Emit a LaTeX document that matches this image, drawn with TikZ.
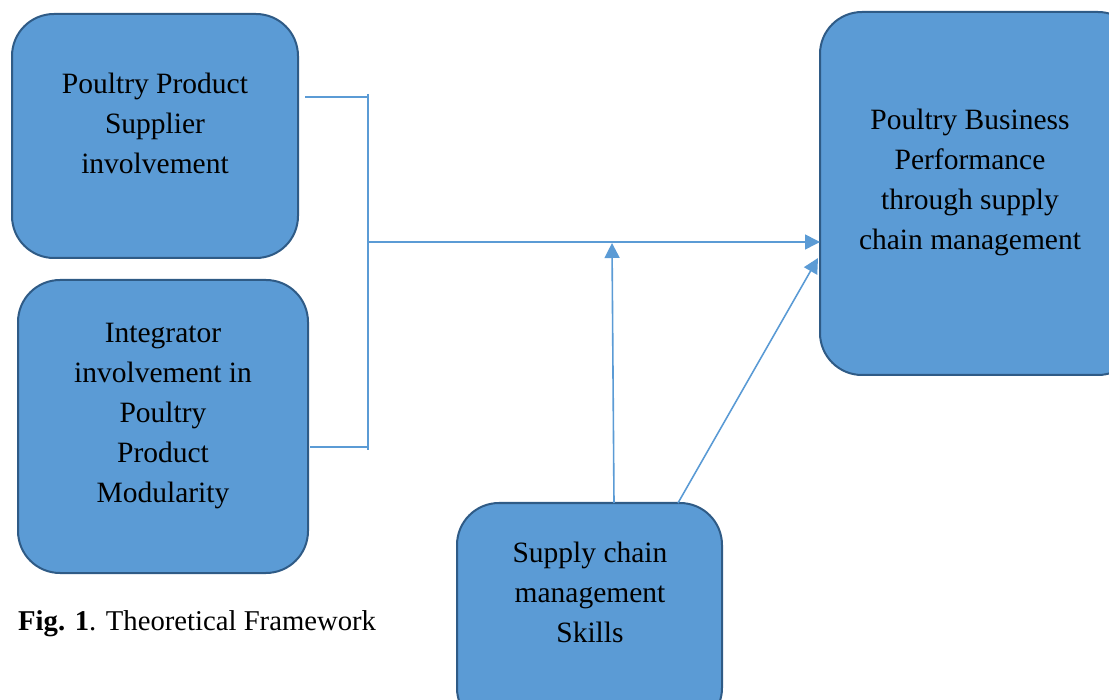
\documentclass[tikz,border=0pt]{standalone}
\usepackage{fontspec}
\setmainfont{Liberation Serif}
\usetikzlibrary{arrows.meta}
\definecolor{boxfill}{HTML}{5B9BD5}
\definecolor{boxedge}{HTML}{2F5B86}
\definecolor{linecol}{HTML}{5B9BD5}
\tikzset{
  box/.style={draw=boxedge, fill=boxfill, line width=2pt, rounded corners=42pt},
  txt/.style={align=center, font=\fontsize{29.5}{40}\selectfont, inner sep=0pt},
  conn/.style={draw=linecol, line width=1.6pt},
  arr/.style={conn, -{Triangle[length=15pt,width=15pt]}},
}
\begin{document}
\begin{tikzpicture}[x=1pt,y=-1pt]
\useasboundingbox (0,0) rectangle (1109,700);
% boxes
\draw[box] (12,14) rectangle (298,258);
\draw[box] (18,280) rectangle (308,573);
\draw[box] (820,12) rectangle (1140,375);
\draw[box] (457,503) rectangle (722,730);
% texts
\node[txt] (sup) at (155,123) {Poultry Product\\Supplier\\involvement};
\node[txt] (int) at (163,416) {Integrator\\involvement in\\Poultry\\Product\\Modularity};
\node[txt] (perf) at (970,182) {Poultry Business\\Performance\\through supply\\chain management};
\node[txt] (skill) at (590,592) {Supply chain\\management\\Skills};
\node[anchor=west, font=\fontsize{28.7}{36}\selectfont, inner sep=0pt] (cap) at (18,624) {\textbf{Fig. 1}. Theoretical Framework};
% connector coordinates
\coordinate (t1) at (305,97);
\coordinate (t2) at (368,97);
\coordinate (vt) at (368,94);
\coordinate (vb) at (368,450);
\coordinate (b1) at (310,447);
\coordinate (b2) at (368,447);
\coordinate (mid) at (368,242);
\coordinate (perfin) at (820,242);
\coordinate (perfin2) at (818,258);
\coordinate (skilltop) at (614,503);
\coordinate (join) at (612,243);
\coordinate (skilltop2) at (678,503);
% connectors
\draw[conn] (t1) -- (t2);
\draw[conn] (vt) -- (vb);
\draw[conn] (b1) -- (b2);
\draw[arr] (mid) -- (perfin);
\draw[arr] (skilltop) -- (join);
\draw[arr] (skilltop2) -- (perfin2);
\end{tikzpicture}
\end{document}
